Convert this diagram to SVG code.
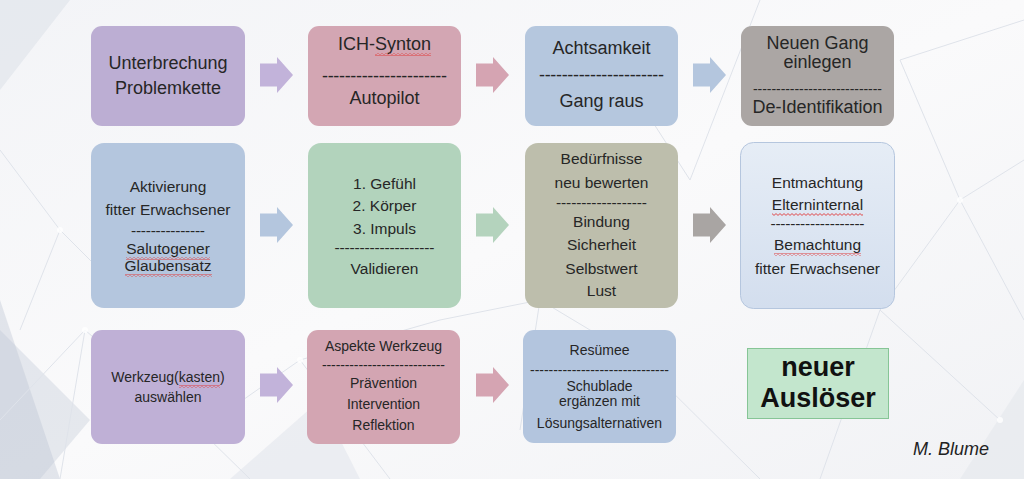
<svg xmlns="http://www.w3.org/2000/svg" width="1024" height="479" viewBox="0 0 1024 479">
<defs>
<style>
text{font-family:"Liberation Sans",Arial,sans-serif;fill:#262626;text-anchor:middle}
.t1{font-size:18px}
.t2{font-size:15.5px}
.t3{font-size:14px}
.d1{font-size:14px}
.big{font-size:27px;font-weight:bold;fill:#111}
.sig{font-size:18px;font-style:italic;fill:#222;text-anchor:start}
.net{stroke:#dfe3ea;stroke-width:1;fill:none}
.dot{fill:#ffffff;opacity:.8}
</style>
<linearGradient id="bg" x1="0" y1="0" x2="1" y2="1">
<stop offset="0" stop-color="#f3f4f7"/>
<stop offset="0.5" stop-color="#fafafb"/>
<stop offset="1" stop-color="#f1f2f5"/>
</linearGradient>
<linearGradient id="g8" x1="0" y1="0" x2="0" y2="1">
<stop offset="0" stop-color="#e6edf6"/>
<stop offset="1" stop-color="#d3deee"/>
</linearGradient>
<pattern id="wave" width="4" height="3" patternUnits="userSpaceOnUse">
<polyline points="0,0.6 2,2.4 4,0.6" fill="none" stroke="#e03a3a" stroke-width="0.9"/>
</pattern>
<path id="arr" d="M0,-11.5 H17 V-18 L33,0 L17,18 V11.5 H0 Z"/>
</defs>

<g id="background">
<rect width="1024" height="479" fill="url(#bg)"/>
<polygon points="0,300 60,479 0,479" fill="#c9d0dc" opacity="0.5"/>
<polygon points="0,330 90,420 40,479 0,479" fill="#bcc5d4" opacity="0.35"/>
<polygon points="0,0 70,0 0,90" fill="#dde2ea" opacity="0.6"/>
<polygon points="230,479 320,400 360,479" fill="#e2e6ed" opacity="0.6"/>
<polygon points="960,479 1024,380 1024,479" fill="#e4e7ed" opacity="0.6"/>
<path class="net" d="M0,150 L60,230 L20,330 M60,230 L130,300 M0,420 L85,330 L200,430 L250,479 M85,330 L60,479 M200,430 L300,360 L390,479 M300,360 L440,320 L540,300 L640,360 M540,300 L520,430 M640,360 L760,479 M900,60 L1024,20 M900,60 L960,200 L1024,160 M960,200 L1024,320 M960,200 L880,310 L1000,420 M880,310 L820,479 M690,180 L760,0 M690,180 L600,40"/>
<circle class="dot" cx="60" cy="230" r="3"/>
<circle class="dot" cx="85" cy="330" r="3"/>
<circle class="dot" cx="300" cy="360" r="3"/>
<circle class="dot" cx="540" cy="300" r="4"/>
<circle class="dot" cx="960" cy="200" r="3"/>
<circle class="dot" cx="1000" cy="420" r="3"/>
</g>

<g id="connectors">
<use href="#arr" x="260" y="75" fill="#c2b3da"/>
<use href="#arr" x="476" y="75" fill="#d5a4b2"/>
<use href="#arr" x="693" y="75" fill="#b4c6de"/>
<use href="#arr" x="260" y="225" fill="#b4c6de"/>
<use href="#arr" x="476" y="225" fill="#b4d3bd"/>
<use href="#arr" x="693" y="225" fill="#a9a5a3"/>
<use href="#arr" x="260" y="385" fill="#c2b3da"/>
<use href="#arr" x="476" y="385" fill="#d5a4b2"/>
</g>

<g id="n1">
<rect x="91" y="26" width="154" height="100" rx="11" fill="#bcaed3"/>
<text class="t1" x="168" y="69">Unterbrechung</text>
<text class="t1" x="168" y="94">Problemkette</text>
</g>
<g id="n2">
<rect x="308" y="26" width="153" height="100" rx="11" fill="#d3a6b3"/>
<text class="t1" x="384.5" y="50">ICH-Synton</text>
<rect x="375" y="53" width="56" height="3" fill="url(#wave)"/>
<text class="t1" x="384.5" y="82" textLength="125" lengthAdjust="spacing">----------------------</text>
<text class="t1" x="384.5" y="104">Autopilot</text>
</g>
<g id="n3">
<rect x="525" y="26" width="153" height="100" rx="11" fill="#b5c7de"/>
<text class="t1" x="601.5" y="54">Achtsamkeit</text>
<text class="t1" x="601.5" y="81" textLength="125" lengthAdjust="spacing">----------------------</text>
<text class="t1" x="601.5" y="107">Gang raus</text>
</g>
<g id="n4">
<rect x="741" y="26" width="153" height="100" rx="11" fill="#aba6a4"/>
<text class="t1" x="817.5" y="49">Neuen Gang</text>
<text class="t1" x="817.5" y="68">einlegen</text>
<text class="d1" x="817.5" y="94" textLength="129" lengthAdjust="spacing">----------------------------</text>
<text class="t1" x="817.5" y="113">De-Identifikation</text>
</g>

<g id="n5">
<rect x="91" y="143" width="154" height="165" rx="13" fill="#b4c6de"/>
<text class="t2" x="168" y="192">Aktivierung</text>
<text class="t2" x="168" y="215">fitter Erwachsener</text>
<text class="t2" x="168" y="236" textLength="74" lengthAdjust="spacing">---------------</text>
<text class="t2" x="168" y="254">Salutogener</text>
<rect x="126" y="257" width="84" height="3" fill="url(#wave)"/>
<text class="t2" x="168" y="271">Glaubensatz</text>
<rect x="125" y="274" width="87" height="3" fill="url(#wave)"/>
</g>
<g id="n6">
<rect x="308" y="143" width="153" height="165" rx="13" fill="#b2d3bc"/>
<text class="t2" x="384.5" y="189">1. Gefühl</text>
<text class="t2" x="384.5" y="211">2. Körper</text>
<text class="t2" x="384.5" y="234">3. Impuls</text>
<text class="t2" x="384.5" y="253" textLength="100" lengthAdjust="spacing">--------------------</text>
<text class="t2" x="384.5" y="274">Validieren</text>
</g>
<g id="n7">
<rect x="525" y="143" width="153" height="165" rx="13" fill="#bdbeac"/>
<text class="t2" x="601.5" y="164">Bedürfnisse</text>
<text class="t2" x="601.5" y="188">neu bewerten</text>
<text class="t2" x="601.5" y="208" textLength="91" lengthAdjust="spacing">------------------</text>
<text class="t2" x="601.5" y="227">Bindung</text>
<text class="t2" x="601.5" y="250">Sicherheit</text>
<text class="t2" x="601.5" y="274">Selbstwert</text>
<text class="t2" x="601.5" y="296">Lust</text>
</g>
<g id="n8">
<rect x="740.5" y="142.5" width="154" height="166" rx="13" fill="url(#g8)" stroke="#b5c6de" stroke-width="1"/>
<text class="t2" x="817.5" y="188">Entmachtung</text>
<text class="t2" x="817.5" y="210">Elterninternal</text>
<rect x="772" y="213" width="91" height="3" fill="url(#wave)"/>
<text class="t2" x="817.5" y="229" textLength="94" lengthAdjust="spacing">-------------------</text>
<text class="t2" x="817.5" y="250">Bemachtung</text>
<rect x="774" y="253" width="87" height="3" fill="url(#wave)"/>
<text class="t2" x="817.5" y="274">fitter Erwachsener</text>
</g>

<g id="n9">
<rect x="91" y="330" width="154" height="114" rx="11" fill="#bfb0d6"/>
<text class="t3" x="168" y="382">Werkzeug(kasten)</text>
<rect x="179" y="385" width="41" height="3" fill="url(#wave)"/>
<text class="t3" x="168" y="402">auswählen</text>
</g>
<g id="n10">
<rect x="307" y="330" width="153" height="114" rx="11" fill="#d3a5b2"/>
<text class="t3" x="383.5" y="351">Aspekte Werkzeug</text>
<text class="t3" x="383.5" y="370" textLength="123" lengthAdjust="spacing">---------------------------</text>
<text class="t3" x="383.5" y="388">Prävention</text>
<text class="t3" x="383.5" y="409">Intervention</text>
<text class="t3" x="383.5" y="430">Reflektion</text>
</g>
<g id="n11">
<rect x="523" y="330" width="153" height="113" rx="11" fill="#b3c5de"/>
<text class="t3" x="599.5" y="355">Resümee</text>
<text class="t3" x="599.5" y="375" textLength="139" lengthAdjust="spacing">------------------------------</text>
<text class="t3" x="599.5" y="391">Schublade</text>
<text class="t3" x="599.5" y="406">ergänzen mit</text>
<text class="t3" x="599.5" y="428">Lösungsalternativen</text>
</g>
<g id="n12">
<rect x="747.5" y="348.5" width="141" height="70" fill="#c3e6cd" stroke="#86c596" stroke-width="1"/>
<text class="big" x="818" y="376">neuer</text>
<text class="big" x="818" y="407">Auslöser</text>
</g>

<text class="sig" x="913" y="455">M. Blume</text>
</svg>
